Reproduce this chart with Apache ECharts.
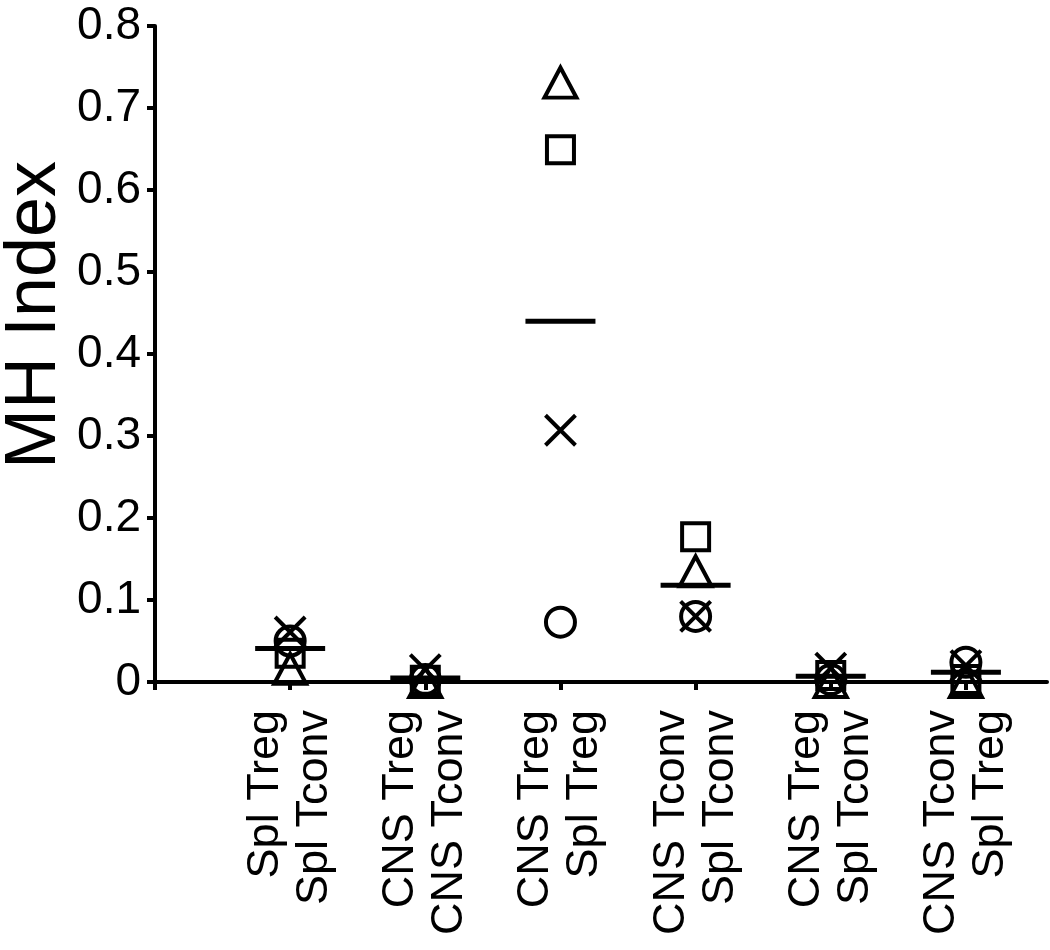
<!DOCTYPE html>
<html>
<head>
<meta charset="utf-8">
<title>MH Index</title>
<script src="https://cdn.jsdelivr.net/npm/echarts@6/dist/echarts.min.js"></script>
<style>
  html, body { margin: 0; padding: 0; background: #fff; }
  #chart { width: 1050px; height: 950px; }
</style>
</head>
<body>
<div id="chart"></div>
<script>
  const groups = [
    "Spl Treg\nSpl Tconv",
    "CNS Treg\nCNS Tconv",
    "CNS Treg\nSpl Treg",
    "CNS Tconv\nSpl Tconv",
    "CNS Treg\nSpl Tconv",
    "CNS Tconv\nSpl Treg"
  ];
  const circleVals = [0.050, 0.003, 0.073, 0.080, 0.003, 0.024];
  const squareVals = [0.035, 0.002, 0.649, 0.177, 0.008, 0.003];
  const triangleVals = [0.016, 0.000, 0.731, 0.135, 0.000, 0.000];
  const crossVals = [0.061, 0.015, 0.307, 0.080, 0.017, 0.020];
  const meanVals = [0.041, 0.005, 0.440, 0.118, 0.007, 0.012];

  const font = "'Liberation Sans', Arial, Helvetica, sans-serif";
  const ink = "#000";

  function points(values) {
    return values.map((v, i) => [i + 1, v]);
  }

  function markerSeries(name, values, symbol, size) {
    return {
      name,
      type: "scatter",
      data: points(values),
      symbol,
      symbolSize: size,
      clip: false,
      itemStyle: {
        color: "rgba(0,0,0,0)",
        borderColor: ink,
        borderWidth: 4,
        opacity: 1
      },
      emphasis: { disabled: true }
    };
  }

  const chart = echarts.init(document.getElementById("chart"));

  chart.setOption({
    backgroundColor: "#fff",
    animation: false,
    grid: { left: 155, right: 3, top: 26, bottom: 268, containLabel: false },
    xAxis: {
      type: "value",
      min: 0,
      max: 6.6,
      interval: 1,
      splitLine: { show: false },
      axisLine: { lineStyle: { color: ink, width: 4 } },
      axisTick: { show: true, length: 8, lineStyle: { color: ink, width: 4 } },
      axisLabel: {
        rotate: 90,
        margin: 28,
        showMaxLabel: false,
        color: ink,
        fontFamily: font,
        fontSize: 45,
        lineHeight: 49,
        formatter(value) {
          const idx = Math.round(value) - 1;
          return Math.abs(value - Math.round(value)) < 1e-6 && groups[idx] ? groups[idx] : "";
        }
      }
    },
    yAxis: {
      type: "value",
      min: 0,
      max: 0.8,
      interval: 0.1,
      splitLine: { show: false },
      axisLine: { show: true, lineStyle: { color: ink, width: 4 } },
      axisTick: { show: true, length: 8, lineStyle: { color: ink, width: 4 } },
      axisLabel: {
        margin: 14,
        color: ink,
        fontFamily: font,
        fontSize: 46,
        formatter(value) {
          return String(Math.round(value * 10) / 10);
        }
      }
    },
    graphic: [
      {
        type: "text",
        x: 35,
        y: 315,
        rotation: Math.PI / 2,
        style: {
          text: "MH Index",
          fill: ink,
          font: "72px " + font,
          align: "center",
          verticalAlign: "middle"
        }
      }
    ],
    series: [
      markerSeries("circle", circleVals, "circle", 29),
      markerSeries("square", squareVals, "rect", 27),
      markerSeries("triangle", triangleVals, "triangle", [32, 30]),
      markerSeries("cross", crossVals, "path://M0,0L10,10M10,0L0,10", 30),
      {
        name: "mean",
        type: "scatter",
        data: points(meanVals),
        symbol: "rect",
        symbolSize: [70, 5],
        clip: false,
        itemStyle: { color: ink, opacity: 1 },
        emphasis: { disabled: true }
      }
    ]
  });
</script>
</body>
</html>
